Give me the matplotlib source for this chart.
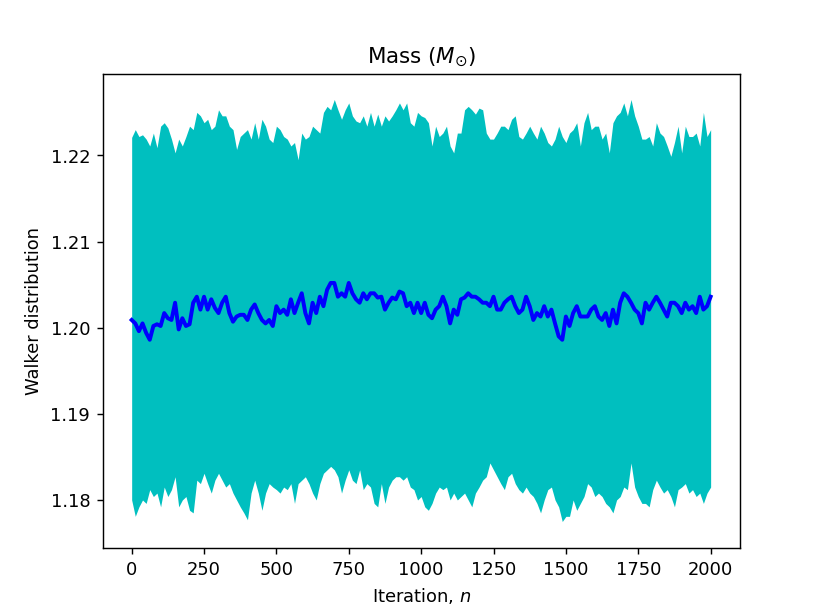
import numpy as np
import matplotlib
matplotlib.use("Agg")
import matplotlib.pyplot as plt

iterations = np.arange(0, 2000.1, 12.5)

walker_max = [
    1.2221, 1.2230, 1.2222, 1.2224, 1.2219, 1.2211, 1.2226, 1.2209,
    1.2234, 1.2238, 1.2232, 1.2219, 1.2203, 1.2219, 1.2211, 1.2222,
    1.2234, 1.2230, 1.2250, 1.2246, 1.2238, 1.2242, 1.2230, 1.2234,
    1.2253, 1.2246, 1.2246, 1.2234, 1.2230, 1.2207, 1.2222, 1.2226,
    1.2230, 1.2219, 1.2238, 1.2219, 1.2242, 1.2234, 1.2219, 1.2215,
    1.2234, 1.2230, 1.2222, 1.2219, 1.2211, 1.2215, 1.2195, 1.2226,
    1.2219, 1.2222, 1.2234, 1.2230, 1.2226, 1.2250, 1.2257, 1.2253,
    1.2265, 1.2253, 1.2242, 1.2253, 1.2261, 1.2246, 1.2240, 1.2238,
    1.2246, 1.2234, 1.2250, 1.2234, 1.2248, 1.2234, 1.2246, 1.2240,
    1.2246, 1.2253, 1.2261, 1.2253, 1.2261, 1.2238, 1.2234, 1.2250,
    1.2246, 1.2244, 1.2238, 1.2211, 1.2234, 1.2222, 1.2226, 1.2234,
    1.2211, 1.2203, 1.2226, 1.2226, 1.2253, 1.2257, 1.2253, 1.2248,
    1.2255, 1.2253, 1.2226, 1.2219, 1.2219, 1.2226, 1.2234, 1.2234,
    1.2230, 1.2242, 1.2246, 1.2222, 1.2219, 1.2226, 1.2234, 1.2226,
    1.2219, 1.2234, 1.2226, 1.2215, 1.2211, 1.2219, 1.2234, 1.2222,
    1.2215, 1.2226, 1.2230, 1.2238, 1.2211, 1.2238, 1.2250, 1.2230,
    1.2234, 1.2234, 1.2219, 1.2226, 1.2203, 1.2238, 1.2246, 1.2250,
    1.2261, 1.2246, 1.2265, 1.2246, 1.2234, 1.2219, 1.2219, 1.2222,
    1.2211, 1.2238, 1.2226, 1.2222, 1.2211, 1.2199, 1.2215, 1.2234,
    1.2203, 1.2234, 1.2222, 1.2222, 1.2226, 1.2211, 1.2250, 1.2222,
    1.2230,
]

walker_min = [
    1.1800, 1.1781, 1.1792, 1.1800, 1.1796, 1.1812, 1.1804, 1.1808,
    1.1792, 1.1815, 1.1804, 1.1812, 1.1827, 1.1792, 1.1800, 1.1804,
    1.1788, 1.1785, 1.1823, 1.1819, 1.1831, 1.1819, 1.1808, 1.1823,
    1.1831, 1.1823, 1.1815, 1.1819, 1.1808, 1.1800, 1.1792, 1.1785,
    1.1777, 1.1808, 1.1823, 1.1808, 1.1788, 1.1808, 1.1819, 1.1815,
    1.1812, 1.1808, 1.1815, 1.1812, 1.1819, 1.1796, 1.1819, 1.1823,
    1.1827, 1.1819, 1.1808, 1.1800, 1.1819, 1.1831, 1.1835, 1.1839,
    1.1835, 1.1827, 1.1808, 1.1823, 1.1835, 1.1823, 1.1819, 1.1835,
    1.1812, 1.1819, 1.1815, 1.1796, 1.1792, 1.1819, 1.1796, 1.1815,
    1.1823, 1.1827, 1.1827, 1.1823, 1.1827, 1.1815, 1.1812, 1.1800,
    1.1804, 1.1792, 1.1788, 1.1796, 1.1808, 1.1815, 1.1812, 1.1815,
    1.1800, 1.1808, 1.1800, 1.1804, 1.1808, 1.1800, 1.1792, 1.1808,
    1.1815, 1.1823, 1.1827, 1.1843, 1.1835, 1.1827, 1.1819, 1.1812,
    1.1827, 1.1831, 1.1819, 1.1812, 1.1808, 1.1815, 1.1808, 1.1804,
    1.1796, 1.1785, 1.1800, 1.1812, 1.1815, 1.1800, 1.1792, 1.1775,
    1.1781, 1.1781, 1.1800, 1.1788, 1.1796, 1.1804, 1.1819, 1.1815,
    1.1804, 1.1808, 1.1804, 1.1796, 1.1792, 1.1785, 1.1800, 1.1804,
    1.1815, 1.1812, 1.1843, 1.1815, 1.1804, 1.1796, 1.1796, 1.1792,
    1.1812, 1.1823, 1.1815, 1.1808, 1.1812, 1.1804, 1.1792, 1.1812,
    1.1815, 1.1819, 1.1808, 1.1812, 1.1804, 1.1808, 1.1796, 1.1808,
    1.1815,
]

walker_mean = [
    1.2009, 1.2005, 1.1996, 1.2005, 1.1994, 1.1986, 1.2002, 1.2004,
    1.2002, 1.2017, 1.2011, 1.2009, 1.2029, 1.1998, 1.2011, 1.2002,
    1.2004, 1.2029, 1.2036, 1.2021, 1.2036, 1.2021, 1.2033, 1.2023,
    1.2017, 1.2029, 1.2036, 1.2017, 1.2007, 1.2013, 1.2015, 1.2015,
    1.2009, 1.2021, 1.2027, 1.2017, 1.2009, 1.2005, 1.2009, 1.2002,
    1.2025, 1.2017, 1.2021, 1.2015, 1.2033, 1.2017, 1.2029, 1.2040,
    1.2017, 1.2005, 1.2029, 1.2017, 1.2036, 1.2025, 1.2044, 1.2052,
    1.2052, 1.2036, 1.2040, 1.2036, 1.2052, 1.2040, 1.2033, 1.2029,
    1.2040, 1.2033, 1.2040, 1.2040, 1.2035, 1.2036, 1.2021, 1.2029,
    1.2035, 1.2033, 1.2042, 1.2040, 1.2025, 1.2029, 1.2017, 1.2029,
    1.2017, 1.2029, 1.2015, 1.2011, 1.2021, 1.2025, 1.2036, 1.2025,
    1.2005, 1.2021, 1.2015, 1.2033, 1.2035, 1.2040, 1.2036, 1.2036,
    1.2033, 1.2029, 1.2029, 1.2025, 1.2036, 1.2021, 1.2021, 1.2029,
    1.2033, 1.2036, 1.2025, 1.2017, 1.2021, 1.2036, 1.2025, 1.2009,
    1.2017, 1.2013, 1.2025, 1.2013, 1.2021, 1.2005, 1.1990, 1.1986,
    1.2013, 1.2002, 1.2017, 1.2025, 1.2013, 1.2013, 1.2013, 1.2021,
    1.2025, 1.2013, 1.2009, 1.2017, 1.2002, 1.2021, 1.2005, 1.2029,
    1.2040, 1.2036, 1.2029, 1.2021, 1.2017, 1.2005, 1.2029, 1.2021,
    1.2029, 1.2036, 1.2029, 1.2021, 1.2013, 1.2029, 1.2029, 1.2025,
    1.2017, 1.2029, 1.2021, 1.2025, 1.2017, 1.2036, 1.2021, 1.2025,
    1.2036,
]

fig, ax = plt.subplots(figsize=(6.4, 4.8), dpi=128.4)
ax.fill_between(iterations, walker_min, walker_max, color="c", linewidth=0)
ax.plot(iterations, walker_mean, color="b", linewidth=2.2)
ax.set_xlim(-100, 2100)
ax.set_ylim(1.1744, 1.2295)
ax.set_title(r"Mass ($M_{\odot}$)")
ax.set_xlabel(r"Iteration, $n$")
ax.set_ylabel("Walker distribution")

fig.savefig("out.png")
